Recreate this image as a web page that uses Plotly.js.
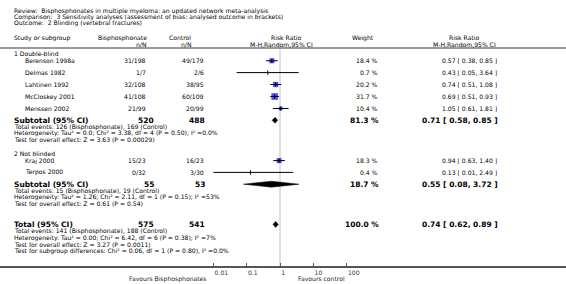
<!DOCTYPE html>
<html><head><meta charset="utf-8">
<script src="https://cdn.plot.ly/plotly-3.0.1.min.js"></script>
<style>html,body{margin:0;padding:0;background:#fff}#chart{width:566px;height:284px}</style>
</head><body><div id="chart"></div>
<script>
// ---------- data ----------
const headerLines = [
  'Review:\u00a0 Bisphosphonates in multiple myeloma: an updated network meta-analysis',
  'Comparison:\u00a0 3 Sensitivity analyses (assessment of bias: analysed outcome in brackets)',
  'Outcome:\u00a0 2 Blinding (vertebral fractures)'
];
const studies = ['Berenson 1998a','Delmas 1982','Lahtinen 1992','McCloskey 2001','Menssen 2002','Kraj 2000','Terpos 2000'];
const studyGroup = [0,0,0,0,0,1,1];
const bisNN = ['31/198','1/7','32/108','41/108','21/99','15/23','0/32'];
const ctrlNN = ['49/179','2/6','38/95','60/109','20/99','16/23','3/30'];
const weights = [18.4,0.7,20.2,31.7,10.4,18.3,0.4];
const rr = [0.57,0.43,0.74,0.69,1.05,0.94,0.13];
const rrLow = [0.38,0.05,0.51,0.51,0.61,0.63,0.01];
const rrHigh = [0.85,3.64,1.08,0.93,1.81,1.40,2.49];

const groupNames = ['1 Double-blind','2 Not blinded'];
const subBisN = [520,55];
const subCtrlN = [488,53];
const subWeight = [81.3,18.7];
const subRR = [0.71,0.55];
const subLow = [0.58,0.08];
const subHigh = [0.85,3.72];
const subNotes = [
  ['Total events: 126 (Bisphosphonate), 169 (Control)',
   'Heterogeneity: Tau\u00b2 = 0.0; Chi\u00b2 = 3.38, df = 4 (P = 0.50); I\u00b2 =0.0%',
   'Test for overall effect: Z = 3.63 (P = 0.00029)'],
  ['Total events: 15 (Bisphosphonate), 19 (Control)',
   'Heterogeneity: Tau\u00b2 = 1.26; Chi\u00b2 = 2.11, df = 1 (P = 0.15); I\u00b2 =53%',
   'Test for overall effect: Z = 0.61 (P = 0.54)']
];
const totalBisN = 575, totalCtrlN = 541, totalWeight = 100.0;
const totalRR = 0.74, totalLow = 0.62, totalHigh = 0.89;
const totalNotes = [
  'Total events: 141 (Bisphosphonate), 188 (Control)',
  'Heterogeneity: Tau\u00b2 = 0.00; Chi\u00b2 = 6.42, df = 6 (P = 0.38); I\u00b2 =7%',
  'Test for overall effect: Z = 3.27 (P = 0.0011)',
  'Test for subgroup differences: Chi\u00b2 = 0.06, df = 1 (P = 0.80), I\u00b2 =0.0%'
];
const tickVals = [0.01,0.1,1,10,100];
const tickLabels = ['0.01','0.1','1','10','100'];
const favourLeft = 'Favours Bisphosphonates';
const favourRight = 'Favours control';

// ---------- layout geometry (pixels) ----------
const W = 566, H = 284, PH = 266;
const FONT = 'DejaVu Sans';
const FS = 6.1, FSB = 7.5;
const titleY = [11, 17.2, 23.4];
const studyY = [60.8,72.6,84.5,96.5,108.5,160.6,172.4];
const groupY = [53.6,153.8];
const subY = [120.3,184.2];
const subNoteY = [[126.8,133.3,139.8],[190.7,197.3,203.9]];
const totalY = 224.4;
const totalNoteY = [231.1,237.8,244.5,251.2];

const fmt2 = v => v.toFixed(2);
const ciText = (e,l,h) => `${fmt2(e)} [ ${fmt2(l)}, ${fmt2(h)} ]`;
const wText = w => `${w.toFixed(1)} %`;

const ann = [];
function txt(text, x, y, anchor, size, bold, color){
  ann.push({text: bold ? '<b>'+text+'</b>' : text, xref:'paper', yref:'paper',
    x: x/W, y: (PH - y)/PH, xanchor: anchor, yanchor:'middle', showarrow:false,
    borderpad:0, font:{family:FONT, size:size, color: color||'#000'}});
}
// title block
headerLines.forEach((h,k)=>txt(h, 13, titleY[k], 'left', FS));
// column headers
txt('Study or subgroup', 13, 37.8, 'left', FS);
txt('Bisphosphonate', 148, 37.8, 'right', FS);
txt('n/N', 147, 44.2, 'right', FS);
txt('Control', 192, 37.8, 'right', FS);
txt('n/N', 192, 44.2, 'right', FS);
txt('Risk Ratio', 286, 37.8, 'center', FS);
txt('M-H,Random,95% CI', 281, 44.2, 'center', FS);
txt('Weight', 363, 37.8, 'center', FS);
txt('Risk Ratio', 464, 37.8, 'center', FS);
txt('M-H,Random,95% CI', 464, 44.2, 'center', FS);
// groups
groupNames.forEach((g,gi)=>{
  txt(g, 13, groupY[gi], 'left', FS);
  txt('Subtotal (95% CI)', 13, subY[gi], 'left', FSB, true);
  txt(String(subBisN[gi]), 155, subY[gi], 'right', FSB, true);
  txt(String(subCtrlN[gi]), 205.5, subY[gi], 'right', FSB, true);
  txt(wText(subWeight[gi]), 380, subY[gi], 'right', FSB, true);
  txt(ciText(subRR[gi],subLow[gi],subHigh[gi]), 499, subY[gi], 'right', FSB, true);
  subNotes[gi].forEach((n,k)=>txt(n, 13, subNoteY[gi][k], 'left', FS));
});
studies.forEach((s,i)=>{
  const y = studyY[i];
  txt(s, 23.5, y, 'left', FS);
  txt(bisNN[i], 147, y, 'right', FS);
  txt(ctrlNN[i], 205, y, 'right', FS);
  txt(wText(weights[i]), 379, y, 'right', FS);
  txt(ciText(rr[i],rrLow[i],rrHigh[i]), 498, y, 'right', FS);
});
txt('Total (95% CI)', 13, totalY, 'left', FSB, true);
txt(String(totalBisN), 155, totalY, 'right', FSB, true);
txt(String(totalCtrlN), 205.5, totalY, 'right', FSB, true);
txt(wText(totalWeight), 380, totalY, 'right', FSB, true);
txt(ciText(totalRR,totalLow,totalHigh), 499, totalY, 'right', FSB, true);
totalNotes.forEach((n,k)=>txt(n, 13, totalNoteY[k], 'left', FS));
txt(favourLeft, 167.5, 278.6, 'center', FS, false, '#222');
txt(favourRight, 321.5, 278.6, 'center', FS, false, '#222');

// ---------- traces ----------
const traces = [];
// null line at RR = 1
traces.push({x:[1,1], y:[49,PH], mode:'lines', line:{color:'#d9d9d9', width:1.6}, hoverinfo:'skip'});
// squares (area proportional to weight)
traces.push({x: rr, y: studyY, mode:'markers', hoverinfo:'skip',
  marker:{symbol:'square', color:'#0000ff', size: weights.map(w=>Math.max(1.2, 1.17*Math.sqrt(w))), line:{width:0}}});
// confidence interval lines
const cx = [], cy = [];
rr.forEach((v,i)=>{ cx.push(rrLow[i], rrHigh[i], null); cy.push(studyY[i], studyY[i], null); });
traces.push({x: cx, y: cy, mode:'lines', line:{color:'#000', width:1}, hoverinfo:'skip', connectgaps:false});
// point estimate ticks
traces.push({x: rr, y: studyY, mode:'markers', hoverinfo:'skip',
  marker:{symbol:'line-ns-open', size:3, color:'#000', line:{width:1, color:'#000'}}});
// diamonds
function diamond(est, lo, hi, y){
  const h = 3;
  traces.push({x:[lo, est, hi, est, lo], y:[y, y-h, y, y+h, y], mode:'lines', fill:'toself',
    fillcolor:'#000', line:{color:'#000', width:0.5}, hoverinfo:'skip'});
}
subRR.forEach((v,gi)=>diamond(v, subLow[gi], subHigh[gi], subY[gi]));
diamond(totalRR, totalLow, totalHigh, totalY);

const layout = {
  width: W, height: H, margin:{l:0, r:0, t:0, b:H-PH}, showlegend:false,
  paper_bgcolor:'#fff', plot_bgcolor:'#fff',
  font:{family:FONT, size:FS, color:'#000'},
  xaxis:{type:'log', range:[-8.4, 8.58], showgrid:false, zeroline:false,
    showline:true, linecolor:'#555', linewidth:1.5,
    ticks:'inside', ticklen:3, tickwidth:1, tickcolor:'#555',
    tickvals: tickVals, ticktext: tickLabels, ticklabelposition:'outside right',
    tickfont:{family:FONT, size:FS, color:'#333'}, fixedrange:true},
  yaxis:{range:[PH,0], visible:false, fixedrange:true},
  shapes:[{type:'line', xref:'paper', yref:'paper', x0:0, x1:1, y0:(PH-48)/PH, y1:(PH-48)/PH,
    line:{color:'#9a9a9a', width:2}}],
  annotations: ann
};
Plotly.newPlot('chart', traces, layout, {staticPlot:true, displayModeBar:false});
</script></body></html>
